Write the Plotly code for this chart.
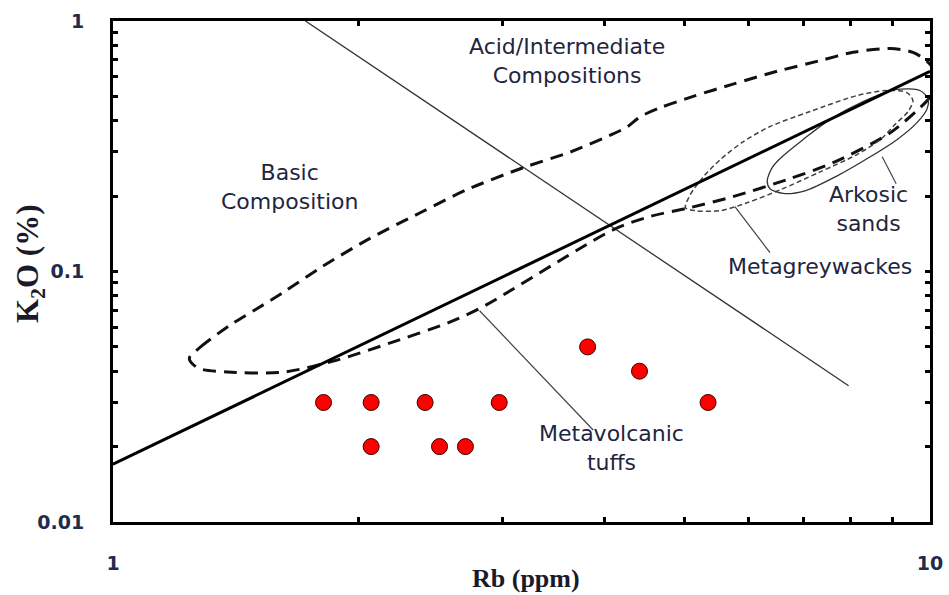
import plotly.graph_objects as go

# Metavolcanic tuff samples: Rb (ppm) vs K2O (%)
rb_tuffs = [1.81, 2.07, 2.41, 2.97, 5.35, 3.81, 4.41, 2.07, 2.51, 2.70]
k2o_tuffs = [0.03, 0.03, 0.03, 0.03, 0.03, 0.05, 0.04, 0.02, 0.02, 0.02]

# Main K/Rb trend line
trend_rb = [1.0, 10.0]
trend_k2o = [0.017, 0.63]

# Basic / acid divider
divider_rb = [1.72, 7.95]
divider_k2o = [1.0, 0.035]

# Acid/intermediate composition field
acid_rb = [1.24, 1.28, 1.39, 1.50, 1.62, 1.79, 2.05, 2.38, 2.71, 3.18, 3.63,
           4.10, 4.26, 4.42, 4.67, 5.13, 5.74, 6.50, 7.34, 8.05, 8.94, 9.53, 9.92,
           10.2, 10.1, 9.94, 8.94, 7.61, 6.69, 5.74, 5.09, 4.55, 4.10, 2.82, 2.57,
           2.19, 1.88, 1.62, 1.38, 1.27, 1.24]
acid_k2o = [0.045, 0.050, 0.061, 0.071, 0.083, 0.103, 0.134, 0.172, 0.212,
            0.260, 0.300, 0.355, 0.378, 0.415, 0.450, 0.500, 0.560, 0.630, 0.695,
            0.750, 0.776, 0.750, 0.690, 0.610, 0.530, 0.485, 0.358, 0.272, 0.233,
            0.199, 0.180, 0.166, 0.147, 0.0716, 0.0624, 0.052, 0.0443, 0.0397,
            0.0397, 0.0412, 0.045]

# Metagreywacke field
greywacke_rb = [5.02, 5.09, 5.28, 5.54, 5.91, 6.37, 7.13, 8.14, 8.86, 9.37, 9.53,
                9.40, 9.06, 8.69, 8.14, 7.34, 6.56, 5.97, 5.54, 5.16, 5.02]
greywacke_k2o = [0.180, 0.203, 0.239, 0.280, 0.330, 0.379, 0.435, 0.504, 0.528,
                 0.518, 0.481, 0.435, 0.386, 0.336, 0.293, 0.250, 0.212, 0.188,
                 0.175, 0.175, 0.180]

# Arkosic sand field
arkose_rb = [6.32, 6.41, 6.59, 6.99, 7.54, 8.28, 9.11, 9.72, 9.94, 9.92, 9.64,
             9.11, 8.45, 7.70, 7.03, 6.61, 6.37, 6.32]
arkose_k2o = [0.230, 0.260, 0.287, 0.336, 0.404, 0.477, 0.533, 0.528, 0.490,
              0.447, 0.393, 0.336, 0.287, 0.241, 0.210, 0.205, 0.214, 0.230]

# Label leader lines
leader_arkose_rb, leader_arkose_k2o = [8.74, 9.09], [0.287, 0.224]
leader_greywacke_rb, leader_greywacke_k2o = [5.77, 6.37], [0.1815, 0.119]
leader_tuff_rb, leader_tuff_k2o = [2.81, 3.87], [0.0697, 0.0233]

# Axis ticks
x_ticks = [1, 2, 3, 4, 5, 6, 7, 8, 9, 10]
x_tick_text = ["1", "", "", "", "", "", "", "", "", "10"]
y_ticks = [0.01, 0.02, 0.03, 0.04, 0.05, 0.06, 0.07, 0.08, 0.09,
           0.1, 0.2, 0.3, 0.4, 0.5, 0.6, 0.7, 0.8, 0.9, 1.0]
y_tick_text = ["0.01"] + [""] * 8 + ["0.1"] + [""] * 8 + ["1"]

TEXT = "#1f2540"
fig = go.Figure()

def line(x, y, width, color="#000000", dash="solid", spline=False):
    fig.add_trace(go.Scatter(
        x=x, y=y, mode="lines", hoverinfo="skip", showlegend=False,
        line=dict(width=width, color=color, dash=dash,
                  shape="spline" if spline else "linear", smoothing=0.8)))

line(divider_rb, divider_k2o, 1.3, "#333333")
line(acid_rb, acid_k2o, 3, "#111111", "13px,8px", spline=True)
line(greywacke_rb, greywacke_k2o, 1.5, "#444444", "5px,3px", spline=True)
line(arkose_rb, arkose_k2o, 1.3, "#333333", spline=True)
line(trend_rb, trend_k2o, 3, "#000000")
line(leader_arkose_rb, leader_arkose_k2o, 1.2, "#444444")
line(leader_greywacke_rb, leader_greywacke_k2o, 1.2, "#444444")
line(leader_tuff_rb, leader_tuff_k2o, 1.2, "#444444")

fig.add_trace(go.Scatter(
    x=rb_tuffs, y=k2o_tuffs, mode="markers", hoverinfo="skip", showlegend=False,
    marker=dict(size=16, color="#ff0000", line=dict(width=1, color="#3a0000"))))

L, R, T, B = 113, 19, 21, 73
W, H = 949, 595
pw, ph = W - L - R, H - T - B

def px(xp, yp):
    return (xp - L) / pw, (H - B - yp) / ph

labels = [
    ("Acid/Intermediate<br>Compositions", 567, 61),
    ("Basic<br>Composition", 289, 187),
    ("Arkosic<br>sands", 868, 209),
    ("Metagreywackes", 820, 266),
    ("Metavolcanic<br>tuffs", 611, 448),
]
for text, xp, yp in labels:
    ax, ay = px(xp, yp)
    fig.add_annotation(text=text, x=ax, y=ay, xref="paper", yref="paper",
                       showarrow=False, xanchor="center", yanchor="middle",
                       font=dict(family="DejaVu Sans", size=22, color=TEXT))

tx, ty = px(526, 578)
fig.add_annotation(text="<b>Rb (ppm)</b>", x=tx, y=ty, xref="paper", yref="paper",
                   showarrow=False, xanchor="center", yanchor="middle",
                   font=dict(family="Liberation Serif", size=26, color="#1a1a2a"))
tx, ty = px(30, 264)
fig.add_annotation(text="<b>K<sub>2</sub>O (%)</b>", x=tx, y=ty, xref="paper",
                   yref="paper", showarrow=False, textangle=-90,
                   xanchor="center", yanchor="middle",
                   font=dict(family="Liberation Serif", size=31, color="#1a1a2a"))

axis_common = dict(type="log", showgrid=False, zeroline=False, showline=True,
                   linewidth=3, linecolor="#000000", mirror="ticks",
                   ticks="inside", ticklen=5, tickwidth=2.5, tickcolor="#000000",
                   ticklabelstandoff=22, automargin=False,
                   tickfont=dict(family="DejaVu Sans", size=19, color="#1f2d4d",
                                 weight="bold"))

fig.update_xaxes(range=[0, 1], tickvals=x_ticks, ticktext=x_tick_text, **axis_common)
fig.update_yaxes(range=[-2, 0], tickvals=y_ticks, ticktext=y_tick_text, **axis_common)

fig.update_layout(width=W, height=H, margin=dict(l=L, r=R, t=T, b=B, autoexpand=False),
                  plot_bgcolor="white", paper_bgcolor="white", hovermode=False)

fig.write_html("out.html")
